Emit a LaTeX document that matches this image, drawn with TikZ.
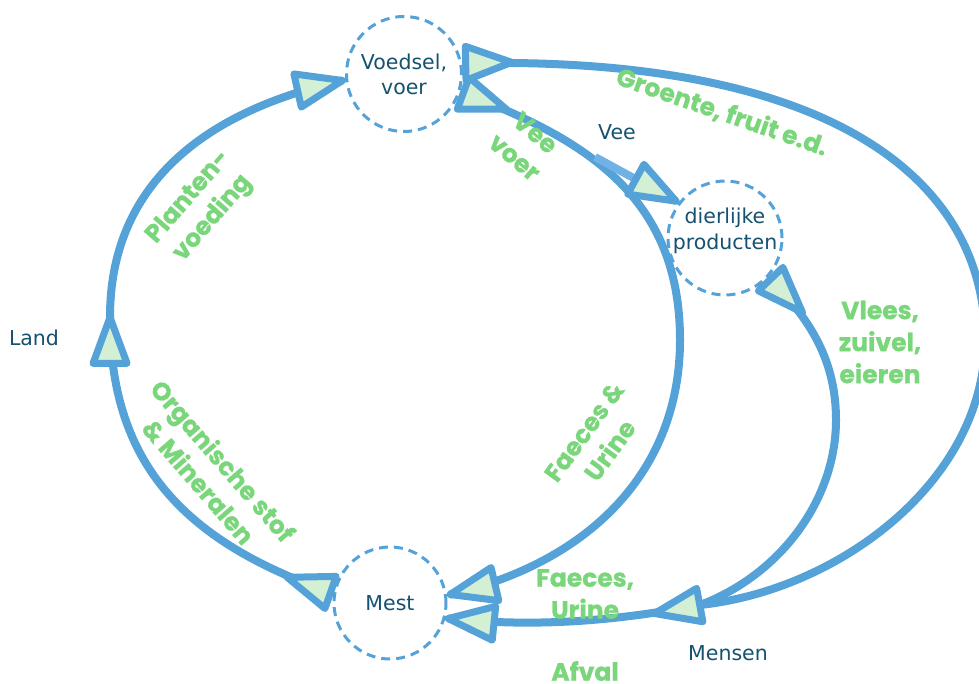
\documentclass[tikz,border=0pt]{standalone}
\usepackage{fontspec}
\setmainfont{DejaVu Sans}
\newfontfamily\greenfont{Poppins}[BoldFeatures={FakeBold=0.8}]
\usetikzlibrary{decorations.markings}
\definecolor{lblue}{RGB}{84,162,216}
\definecolor{vblue}{RGB}{112,178,230}
\definecolor{agreen}{RGB}{212,240,212}
\definecolor{gtext}{RGB}{122,214,122}
\definecolor{dtext}{RGB}{22,82,112}
\begin{document}
\begin{tikzpicture}[x=1pt,y=1pt,
  place/.style={circle, draw=lblue, line width=3pt, dash pattern=on 9pt off 6pt, fill=white,
    text=dtext, font=\fontsize{20.5}{25}\selectfont, align=center, inner sep=0pt, outer sep=4pt},
  dlabel/.style={text=dtext, font=\fontsize{20.5}{26}\selectfont, align=center, inner sep=0pt},
  glabel/.style={text=gtext, font=\greenfont\bfseries\fontsize{25}{32}\selectfont, align=center, inner sep=0pt},
  flow/.style={draw=lblue, line width=8pt},
  arrtri/.style={draw=lblue, fill=agreen, line width=7pt, line join=round},
  endhead/.style={postaction={decorate, decoration={markings,
      mark=at position 0.999 with {\path[arrtri] (0,0)--(-46,17)--(-46,-17)--cycle;}}}},
  starthead/.style={postaction={decorate, decoration={markings,
      mark=at position 0.001 with {\path[arrtri] (46,0)--(0,17)--(0,-17)--cycle;}}}}
]
\useasboundingbox (0,0) rectangle (979,-684);
\fill[white] (0,0) rectangle (979,-684);

% places
\node[place, minimum size=115pt] (V) at (404,-74) {Voedsel,\\voer};
\node[place, minimum size=114pt] (D) at (725,-238) {};
\node[place, minimum size=112pt] (M) at (390,-603) {Mest};
\node[dlabel] (Dtext) at (725,-231) {dierlijke\\producten};

% junction points
\coordinate (LandTip) at (110,-317);
\coordinate (R) at (680,-340);
\coordinate (Rr) at (985,-340);
\coordinate (Mn) at (700,-605);
\coordinate (VeeC) at (595,-157);

% left loop: Mest -> Land -> Voedsel
\draw[flow, starthead, endhead] (M.170) .. controls (180,-540) and (110,-460) .. (LandTip);
\draw[flow, endhead] (LandTip) .. controls (110,-187) and (201,-112) .. (V.186);

% right arc: Voedsel -> Mest (vee voer, faeces & urine)
\draw[flow, starthead, endhead] (V.-18) .. controls (590,-140) and (680,-200) .. (R)
   .. controls (680,-470) and (591,-562) .. (M.8);

% vee branch
\draw[draw=vblue, line width=8pt, endhead] (VeeC) -- (D.143);

% groente, fruit
\draw[flow, starthead] (V.10) .. controls (840,-55) and (985,-185) .. (Rr)
   .. controls (985,-480) and (840,-590) .. (Mn);

% vlees, zuivel, eieren
\draw[flow, starthead] (D.-42) .. controls (805,-315) and (836,-355) .. (836,-420)
   .. controls (836,-500) and (780,-575) .. (Mn);

% mensen -> mest
\draw[flow, starthead, endhead] (Mn) .. controls (620,-620) and (540,-628) .. (M.-15);

% dark labels
\node[dlabel] (land) at (34,-338) {Land};
\node[dlabel] (vee) at (617,-132) {Vee};
\node[dlabel] (mensen) at (728,-653) {Mensen};

% green labels
\node[glabel, rotate=49] (planten) at (201,-208) {Planten-\\voeding};
\node[glabel, rotate=-40] (veevoer) at (525,-145) {Vee\\voer};
\node[glabel, rotate=-19] (groente) at (722,-112) {Groente, fruit e.d.};
\node[glabel] (vlees) at (880,-342) {Vlees,\\zuivel,\\eieren};
\node[glabel, rotate=54] (faeces1) at (597,-441) {Faeces \&\\Urine};
\node[glabel, rotate=-49] (organisch) at (211,-471) {Organische stof\\\& Mineralen};
\node[glabel] (faeces2) at (585,-594) {Faeces,\\Urine};
\node[glabel] (afval) at (585,-671) {Afval};
\end{tikzpicture}
\end{document}
